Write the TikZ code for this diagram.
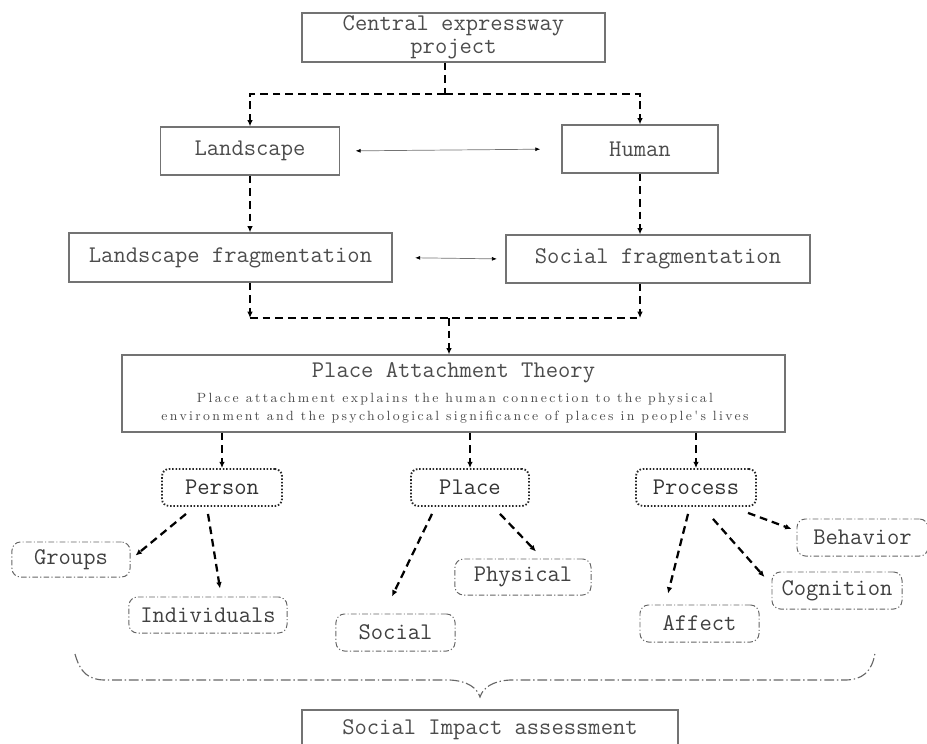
\documentclass[tikz,border=0pt]{standalone}
\usepackage{fontspec}
\usetikzlibrary{arrows.meta,calc}

\newfontfamily\spacedroman[LetterSpace=18]{Latin Modern Roman}
\tikzset{
  mainfont/.style={font=\ttfamily\fontsize{17}{16.5}\selectfont, text=black!70},
  subfont/.style={font=\spacedroman\fontsize{9.5}{12.8}\selectfont, text=black!70},
  plainbox/.style={draw=black!55, line width=0.9pt, inner sep=0pt, mainfont},
  corebox/.style={draw=black!85, rounded corners=5pt, line width=1.3pt, dash pattern=on 1.1pt off 1.3pt,
                  inner sep=0pt, minimum height=0.925cm, mainfont, text=black!80},
  leafbox/.style={draw=black!60, rounded corners=6pt, line width=0.7pt, dash pattern=on 4pt off 1.6pt on 0.8pt off 1.6pt,
                  inner sep=0pt, mainfont, text=black!75},
  dashline/.style={line width=1.6pt, dash pattern=on 5.5pt off 3.5pt},
  dasharrow/.style={dashline, -{Latex[length=4.5pt,width=4pt]}},
  twoway/.style={draw=black!55, line width=0.5pt, {Latex[length=3.5pt,width=2.8pt,black]}-{Latex[length=3.5pt,width=2.8pt,black]}},
  bracestyle/.style={draw=black!60, line width=0.8pt, dash pattern=on 7pt off 2pt on 1pt off 2pt},
}

\begin{document}
\begin{tikzpicture}[x=0.025cm,y=-0.025cm]
                \useasboundingbox (0,0) rectangle (927,743);
                \clip (0,0) rectangle (927,743);
%
                \node [plainbox, minimum width=7.575cm, minimum height=1.225cm, align=center] (cep) at (453.5,37.5) {Central expressway\\project};
                \node [plainbox, minimum width=4.475cm, minimum height=1.2cm] (landscape) at (250,151) {Landscape};
                \node [plainbox, minimum width=3.9cm, minimum height=1.2cm] (human) at (640,149) {Human};
                \node [plainbox, minimum width=8.075cm, minimum height=1.225cm] (lfrag) at (230.5,257.5) {Landscape fragmentation};
                \node [plainbox, minimum width=7.6cm, minimum height=1.2cm] (sfrag) at (658,259) {Social fragmentation};
%
                \node [plainbox, minimum width=16.575cm, minimum height=1.925cm] (pat) at (453.5,393.5) {};
                \node [mainfont] (pattitle) at (453.5,373) {Place Attachment Theory};
                \node [subfont, align=center] (patsub) at (455,408) {Place attachment explains the human connection to the physical\\environment and the psychological significance of places in people's lives};
%
                \node [corebox, minimum width=3cm] (person) at (222,487.5) {Person};
                \node [corebox, minimum width=2.95cm] (place) at (470,487.5) {Place};
                \node [corebox, minimum width=3cm] (process) at (696,487.5) {Process};
%
                \node [leafbox, minimum width=2.95cm, minimum height=0.875cm] (groups) at (71,559.5) {Groups};
                \node [leafbox, minimum width=3.95cm, minimum height=0.9cm] (individuals) at (208,615) {Individuals};
                \node [leafbox, minimum width=2.975cm, minimum height=0.925cm] (social) at (395.5,632.5) {Social};
                \node [leafbox, minimum width=3.4cm, minimum height=0.9cm] (physical) at (523,577) {Physical};
                \node [leafbox, minimum width=2.975cm, minimum height=0.925cm] (affect) at (699.5,623.5) {Affect};
                \node [leafbox, minimum width=3.25cm, minimum height=0.925cm] (cognition) at (837,590.5) {Cognition};
                \node [leafbox, minimum width=3.275cm, minimum height=0.925cm] (behavior) at (862.5,537.5) {Behavior};
%
                \node [plainbox, minimum width=9.4cm, minimum height=1cm] (sia) at (490,730) {Social Impact assessment};
%
                \coordinate (split) at (445,94);
                \draw [dashline] (split |- cep.south) -- (split);
                \draw [dasharrow] (split) -| (landscape.north);
                \draw [dasharrow] (split) -| (human.north);
                \draw [twoway, shorten <=11pt, shorten >=15pt] (landscape.east) -- (human.west);
                \draw [dasharrow] (landscape.south) -- (landscape.south |- lfrag.north);
                \draw [dasharrow] (human.south) -- (human.south |- sfrag.north);
                \draw [twoway, shorten <=16pt, shorten >=6pt] (lfrag.east) -- (sfrag.west);
%
                \coordinate (merge) at (449,318);
                \draw [dasharrow] (landscape.south |- lfrag.south) -- (landscape.south |- merge);
                \draw [dasharrow] (human.south |- sfrag.south) -- (human.south |- merge);
                \draw [dashline] (landscape.south |- merge) -- (human.south |- merge);
                \draw [dasharrow] (merge) -- (merge |- pat.north);
%
                \draw [dasharrow] (person.north |- pat.south) -- (person.north);
                \draw [dasharrow] (place.north |- pat.south) -- (place.north);
                \draw [dasharrow] (process.north |- pat.south) -- (process.north);
%
                \draw [dasharrow] ($(person.south)+(-36,7)$) -- ($(groups.east)+(5,-4)$);
                \draw [dasharrow] ($(person.south)+(-14,7)$) -- ($(individuals.north)+(12,-8)$);
                \draw [dasharrow] ($(place.south)+(-38,7)$) -- ($(social.north)+(-3.5,-17)$);
                \draw [dasharrow] ($(place.south)+(30,7)$) -- ($(physical.north)+(13,-7)$);
                \draw [dasharrow] ($(process.south)+(-8,7)$) -- ($(affect.north)+(-31.5,-11)$);
                \draw [dasharrow] ($(process.south)+(17,12)$) -- ($(cognition.west)+(-7,-13.5)$);
                \draw [dasharrow] ($(process.south)+(52,6)$) -- ($(behavior.west)+(-5,-8.5)$);
%
                \draw [bracestyle] (75,654) .. controls (80,672) and (88,680) .. (105,680) -- (450,680)
                      .. controls (468,681) and (477,688) .. (480,697)
                      .. controls (483,688) and (492,681) .. (510,680) -- (845,680)
                      .. controls (862,680) and (872,672) .. (875,653);
\end{tikzpicture}
\end{document}
